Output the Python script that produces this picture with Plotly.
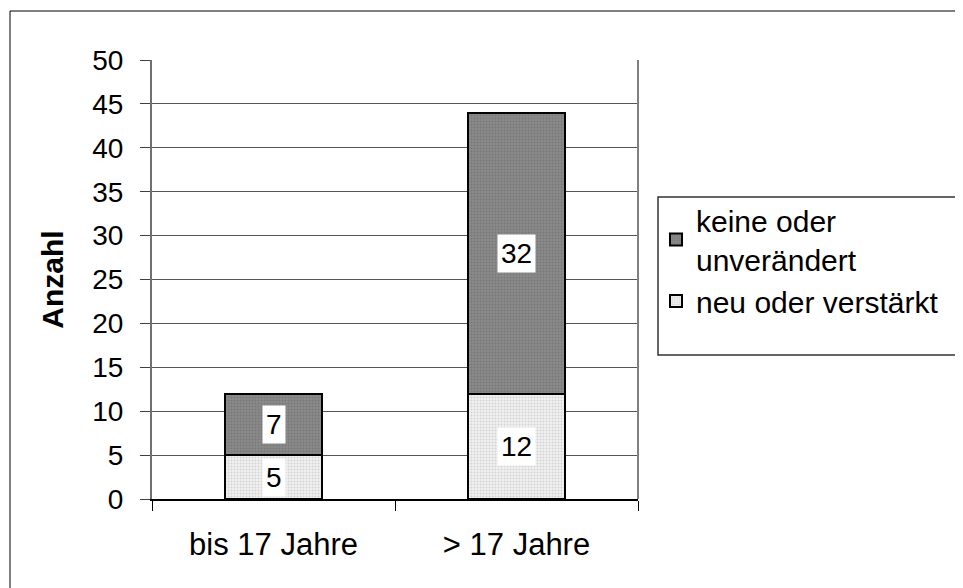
import plotly.graph_objects as go

# data
categories = ["bis 17 Jahre", "> 17 Jahre"]
neu_verstaerkt = [5, 12]
keine_unveraendert = [7, 32]
series_names = ["neu oder verstärkt", "keine oder<br>unverändert"]
y_ticks = [0, 5, 10, 15, 20, 25, 30, 35, 40, 45, 50]

FONT = "Liberation Sans, Arial, sans-serif"
OFF = 8  # page body margin
W, H = 963 - OFF, 588 - OFF
# plot area in page pixels
L, R, T, B = 152, 638, 60, 499


def px_x(p):
    return (p - L) / (R - L)


def px_y(p):
    return (B - p) / (B - T)


fig = go.Figure()
fig.add_trace(go.Bar(
    x=categories, y=neu_verstaerkt, name=series_names[0],
    marker=dict(color="#ffffff", line=dict(color="#000000", width=2),
                pattern=dict(shape=".", fgcolor="#b8b8b8", bgcolor="#f0f0f0",
                             size=3, solidity=0.35)),
))
fig.add_trace(go.Bar(
    x=categories, y=keine_unveraendert, name=series_names[1],
    marker=dict(color="#808080", line=dict(color="#000000", width=2),
                pattern=dict(shape=".", fgcolor="#666666", bgcolor="#8a8a8a",
                             size=3, solidity=0.35)),
))

# value labels with white boxes
for i, c in enumerate(categories):
    fig.add_annotation(x=c, y=neu_verstaerkt[i] / 2, text=str(neu_verstaerkt[i]),
                       showarrow=False, bgcolor="#ffffff", borderpad=3,
                       font=dict(family=FONT, size=28, color="#000000"))
    fig.add_annotation(x=c, y=neu_verstaerkt[i] + keine_unveraendert[i] / 2,
                       text=str(keine_unveraendert[i]),
                       showarrow=False, bgcolor="#ffffff", borderpad=3,
                       font=dict(family=FONT, size=28, color="#000000"))

# outer chart border and legend box
fig.add_shape(type="rect", xref="paper", yref="paper",
              x0=px_x(10), x1=px_x(985), y0=px_y(610), y1=px_y(11),
              line=dict(color="#000000", width=1), layer="below")
fig.add_shape(type="rect", xref="paper", yref="paper",
              x0=px_x(658), x1=px_x(985), y0=px_y(355), y1=px_y(197),
              line=dict(color="#333333", width=1.5))
# right plot border (gray)
fig.add_shape(type="line", xref="paper", yref="paper", x0=1, x1=1, y0=0, y1=1,
              line=dict(color="#808080", width=2))

fig.update_layout(
    width=W, height=H,
    barmode="stack", bargap=0.6,
    paper_bgcolor="#ffffff", plot_bgcolor="#ffffff",
    margin=dict(l=L - OFF, r=W - (R - OFF), t=T - OFF, b=H - (B - OFF), pad=0),
    font=dict(family=FONT, size=30, color="#000000"),
    showlegend=True,
    legend=dict(x=px_x(656), y=px_y(194), xanchor="left", yanchor="top",
                traceorder="reversed", borderwidth=0, bgcolor="rgba(0,0,0,0)",
                font=dict(family=FONT, size=30), itemwidth=30, tracegroupgap=0),
    xaxis=dict(showgrid=False, showline=True, linecolor="#000000", linewidth=2,
               ticks="outside", ticklen=10, tickcolor="#000000", tickson="boundaries",
               tickfont=dict(size=31), ticklabelstandoff=17),
    yaxis=dict(range=[0, 50], tickvals=y_ticks, showgrid=True, gridcolor="#555555",
               gridwidth=1, showline=True, linecolor="#707070", linewidth=2,
               ticks="outside", ticklen=10, tickcolor="#404040",
               tickfont=dict(size=28), ticklabelstandoff=11,
               title=dict(text="<b>Anzahl</b>", font=dict(size=30), standoff=20),
               zeroline=False),
)

fig.write_html("out.html")
